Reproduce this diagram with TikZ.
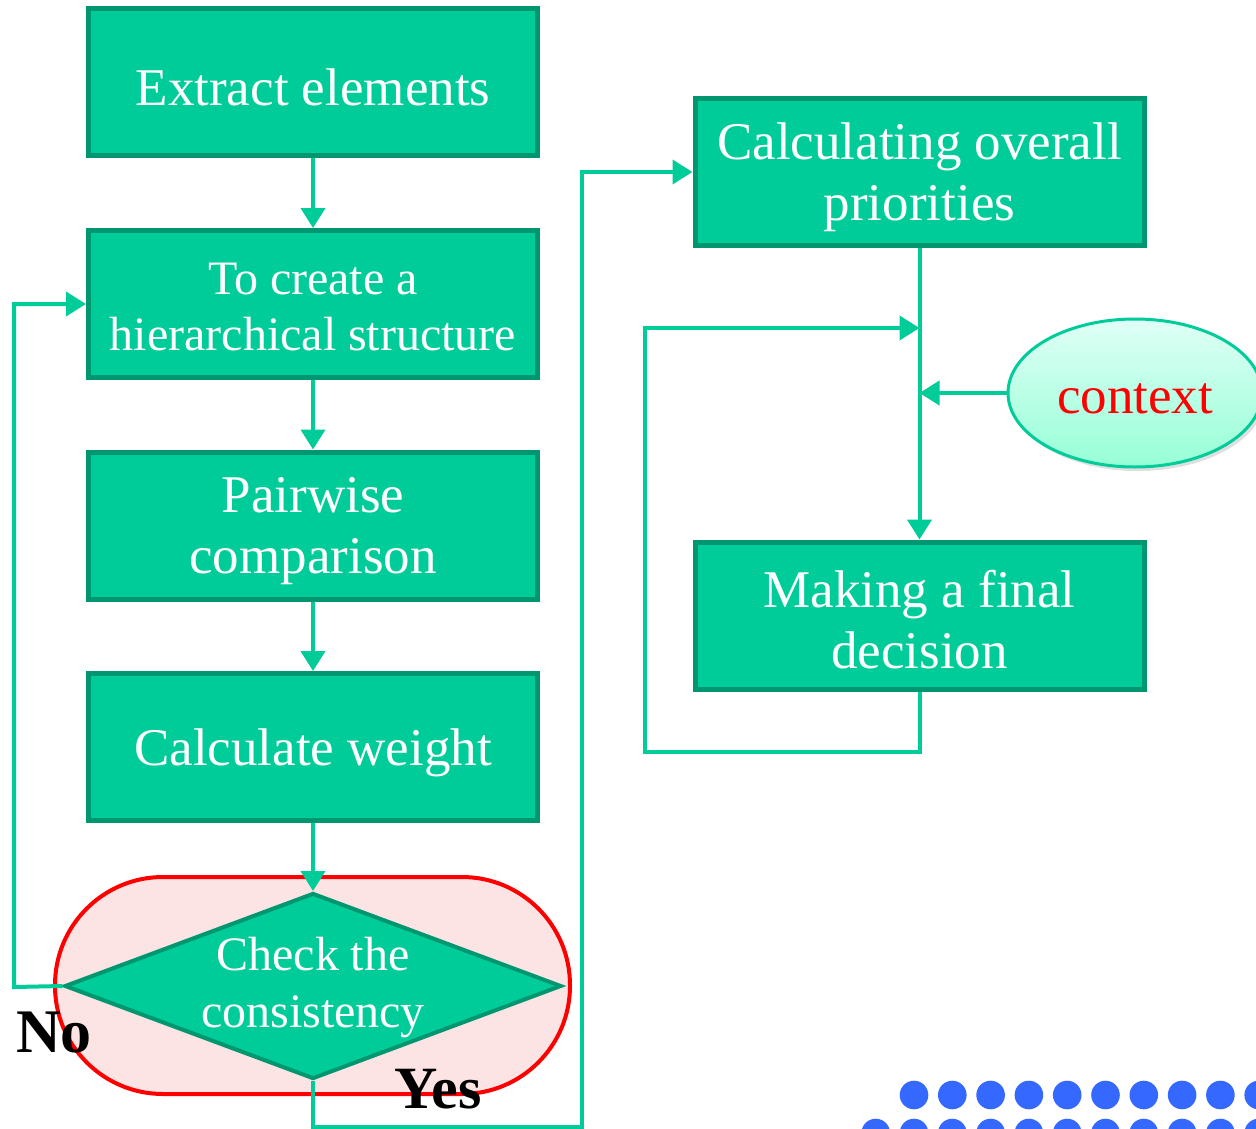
\documentclass[tikz,border=0pt]{standalone}
\usepackage{fontspec}
\setmainfont{Liberation Serif}
\usetikzlibrary{arrows.meta,shapes.geometric,shadows}
\definecolor{gfill}{RGB}{0,204,153}
\definecolor{gedge}{RGB}{0,150,112}
\definecolor{pinkfill}{RGB}{253,228,228}
\definecolor{dotblue}{RGB}{53,104,255}
\definecolor{ctxtop}{RGB}{224,255,246}
\definecolor{ctxbot}{RGB}{150,255,215}
\begin{document}
\begin{tikzpicture}[x=1pt,y=-1pt,
 box/.style={rectangle, draw=gedge, fill=gfill, line width=5pt, minimum width=449pt, minimum height=147pt, inner sep=0pt},
 boxtext/.style={align=center, text=white, inner sep=0pt, font=\fontsize{53}{61}\selectfont},
 conn/.style={draw=gfill, line width=4pt},
 tip/.style={-{Triangle[length=20pt,width=24pt]}},
 lbl/.style={text=black, inner sep=0pt},
 dot/.style={fill=dotblue}
 ]
\useasboundingbox (0,0) rectangle (1256,1129);
\clip (0,0) rectangle (1256,1129);

% left column
\node[box] (ext) at (313,82.5) {};
\node[boxtext] (extt) at (313,87) {Extract elements};
\node[box] (hier) at (313,304) {};
\node[boxtext, font=\fontsize{48}{56}\selectfont] (hiert) at (313,307) {To create a\\hierarchical structure};
\node[box] (pair) at (313,525.5) {};
\node[boxtext] (pairt) at (313,531) {Pairwise\\comparison};
\node[box] (cw) at (313,747) {};
\node[boxtext] (cwt) at (313,753) {Calculate weight};

% decision
\node[draw=red, fill=pinkfill, line width=4pt, rounded corners=108pt, minimum width=515pt, minimum height=217pt] (stad) at (312.5,985.5) {};
\node[diamond, draw=gedge, fill=gfill, line width=4pt, minimum width=497pt, minimum height=186pt, inner sep=0pt, aspect=2.67] (dia) at (313,986) {};
\node[boxtext, font=\fontsize{48}{57}\selectfont] (diatext) at (313,988) {Check the\\consistency};

% right column
\node[box] (ovr) at (919.5,172) {};
\node[boxtext] (ovrt) at (919.5,177) {Calculating overall\\priorities};
\node[box] (fin) at (919.5,615.5) {};
\node[boxtext] (fint) at (919.5,620) {Making a final\\decision};
\node[ellipse, draw=gfill, line width=3pt, top color=ctxtop, bottom color=ctxbot, minimum width=254pt, minimum height=148pt, drop shadow={opacity=0.25, shadow xshift=3pt, shadow yshift=-4pt}] (ctx) at (1135,393) {};
\node[boxtext, text=red] (ctxt) at (1135,399) {context};

% connectors
\draw[conn,tip] (ext) -- (hier);
\draw[conn,tip] (hier) -- (pair);
\draw[conn,tip] (pair) -- (cw);
\draw[conn,tip] (cw) -- (dia.north);

\coordinate (nocorner) at (14,987);
\draw[conn,tip] (dia.west) -- (nocorner) |- (hier.west);

\coordinate (ycorner) at (582,1127);
\draw[conn,tip] (dia.south) |- (ycorner) |- (ovr.west);

\coordinate (j1) at (919.5,328);
\coordinate (j2) at (919.5,393);
\coordinate (lc) at (645,752);
\draw[conn,tip] (ovr) -- (fin);
\draw[conn,tip] (fin.south) |- (lc) |- (j1);
\draw[conn,tip] (ctx) -- (j2);

% labels
\node[lbl, font=\bfseries\fontsize{62}{62}\selectfont] (no) at (54,1032) {No};
\node[lbl, font=\bfseries\fontsize{60}{60}\selectfont] (yes) at (438,1089) {Yes};

% dots
\foreach \i in {0,...,9} \fill[dot] (914+38.3*\i,1095) circle (14.3);
\foreach \i in {0,...,10} \fill[dot] (875.7+38.3*\i,1133) circle (14.3);
\end{tikzpicture}
\end{document}
